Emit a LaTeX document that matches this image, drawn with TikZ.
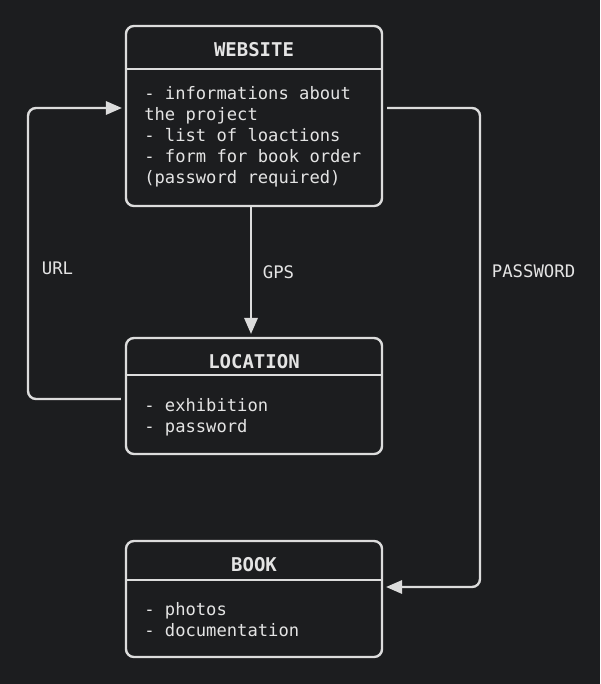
\documentclass[tikz,border=0pt]{standalone}
\usepackage{fontspec}
\setmainfont{DejaVu Sans Mono}
\usepackage{xcolor}
\usetikzlibrary{arrows.meta,calc}
\definecolor{bgdark}{HTML}{1C1D1F}
\definecolor{linegray}{HTML}{DCDCDC}
\definecolor{textgray}{HTML}{E4E4E4}

\begin{document}
\begin{tikzpicture}[x=0.025cm,y=-0.025cm,
    entity/.style={draw=linegray,line width=1.7pt,rounded corners=0.2cm,minimum width=6.4cm},
    title/.style={text=textgray,font=\fontsize{13.5}{15}\selectfont\bfseries},
    body/.style={text=textgray,anchor=west,align=left,inner sep=0pt,font=\fontsize{12.2}{15}\selectfont},
    flow/.style={draw=linegray,line width=1.7pt,rounded corners=0.2cm,-{Triangle[length=4mm,width=3.3mm]},shorten >=2pt},
    tag/.style={text=textgray,font=\fontsize{12.3}{14}\selectfont}]
    \fill[bgdark] (0,0) rectangle (600,684);
    \useasboundingbox (0,0) rectangle (600,684);
    % boxes
    \node[entity,minimum height=4.5cm] (site) at (254,116) {};
    \node[title] at (254,50) {WEBSITE};
    \draw[linegray,line width=1.7pt] (site.west |- 0,69) -- (site.east |- 0,69);
    \node[body] at (144,137) {- informations about\\the project\\- list of loactions\\- form for book order\\(password required)};
    \node[entity,minimum height=2.9cm] (loc) at (254,396) {};
    \node[title] at (254,362) {LOCATION};
    \draw[linegray,line width=1.7pt] (loc.west |- 0,375) -- (loc.east |- 0,375);
    \node[body] at (144,417) {- exhibition\\- password};
    \node[entity,minimum height=2.9cm] (book) at (254,599) {};
    \node[title] at (254,565) {BOOK};
    \draw[linegray,line width=1.7pt] (book.west |- 0,580) -- (book.east |- 0,580);
    \node[body] at (144,620) {- photos\\- documentation};
    % links
    \draw[flow] ([xshift=-0.075cm]site.south) -- ([xshift=-0.075cm]loc.north)
        node[tag,midway,right=0.15cm] {GPS};
    \draw[flow] ([xshift=-0.1cm,yshift=-0.075cm]loc.west) -- (28,399) -- (28,108)
        node[tag,pos=0.45,right=0.2cm] {URL} -- ([yshift=0.2cm]site.west);
    \draw[flow] ([xshift=0.1cm,yshift=0.2cm]site.east) -- (480,108) -- (480,587)
        node[tag,pos=0.34,right=0.15cm] {PASSWORD} -- ([yshift=0.3cm]book.east);
\end{tikzpicture}
\end{document}
